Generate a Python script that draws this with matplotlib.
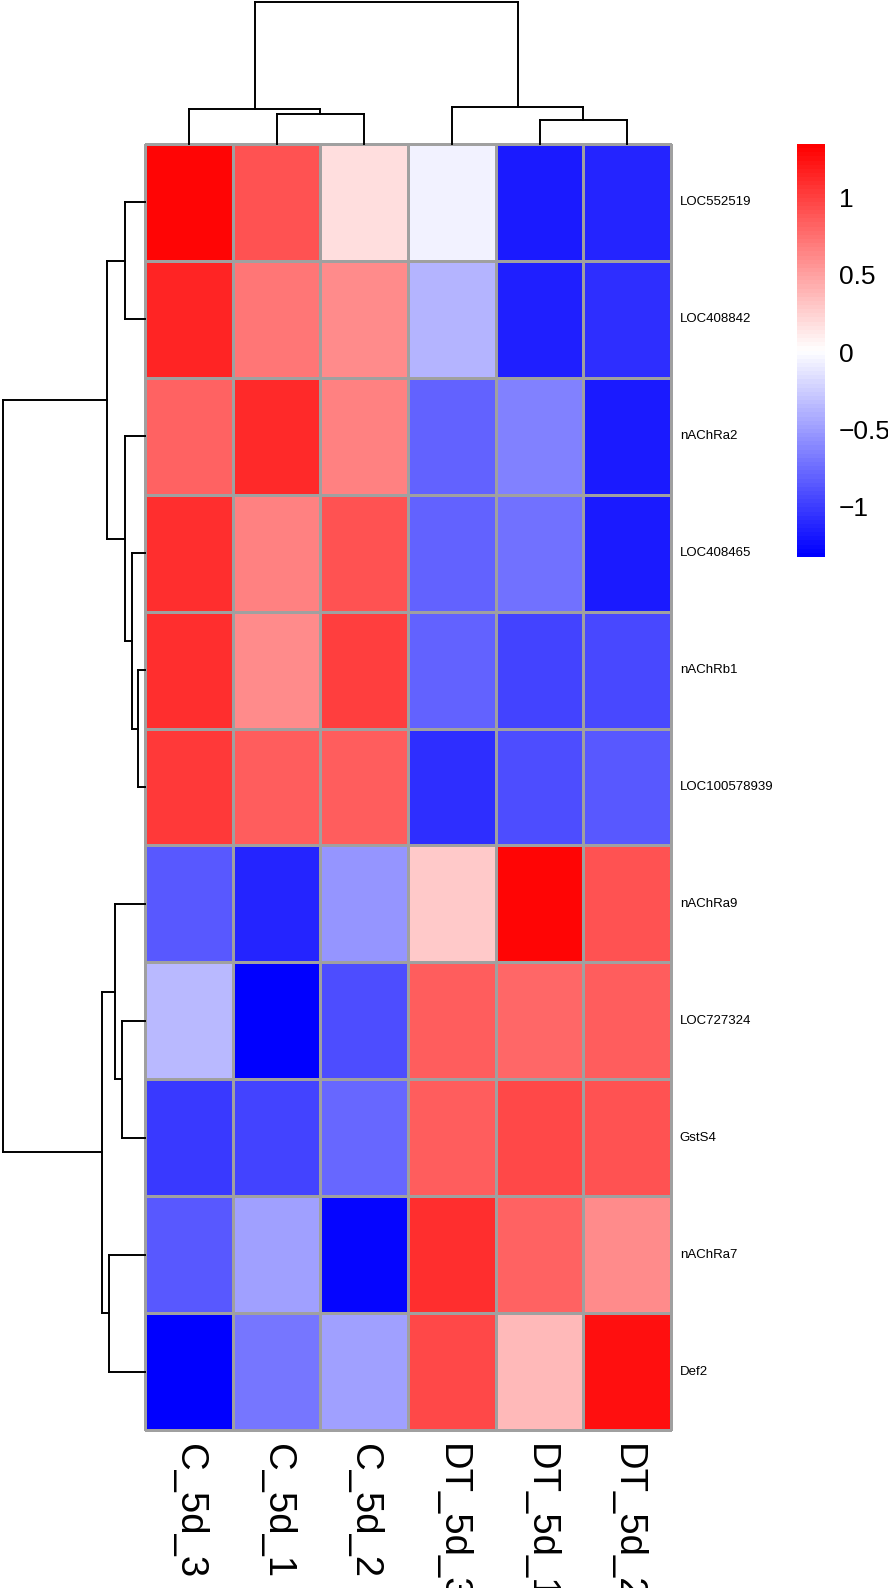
import matplotlib

matplotlib.use("Agg")

import matplotlib.pyplot as plt
import numpy as np
from matplotlib.colors import LinearSegmentedColormap, Normalize

plt.rcParams["font.family"] = ["Liberation Sans", "DejaVu Sans"]

# rows / columns in dendrogram order
genes = [
    "LOC552519", "LOC408842", "nAChRa2", "LOC408465", "nAChRb1", "LOC100578939",
    "nAChRa9", "LOC727324", "GstS4", "nAChRa7", "Def2",
]
samples = ["C_5d_3", "C_5d_1", "C_5d_2", "DT_5d_3", "DT_5d_1", "DT_5d_2"]

# row-scaled expression (z-scores)
z_LOC552519 = [1.30, 0.90, 0.18, -0.06, -1.18, -1.12]
z_LOC408842 = [1.15, 0.72, 0.62, -0.38, -1.15, -1.08]
z_nAChRa2 = [0.82, 1.12, 0.66, -0.82, -0.66, -1.18]
z_LOC408465 = [1.10, 0.66, 0.90, -0.80, -0.72, -1.18]
z_nAChRb1 = [1.10, 0.62, 1.02, -0.82, -0.98, -0.95]
z_LOC100578939 = [1.05, 0.85, 0.86, -1.08, -0.92, -0.85]
z_nAChRa9 = [-0.86, -1.12, -0.55, 0.28, 1.32, 0.92]
z_LOC727324 = [-0.35, -1.33, -0.92, 0.86, 0.80, 0.86]
z_GstS4 = [-1.02, -0.96, -0.78, 0.86, 0.96, 0.90]
z_nAChRa7 = [-0.86, -0.48, -1.30, 1.10, 0.82, 0.62]
z_Def2 = [-1.33, -0.70, -0.48, 0.96, 0.38, 1.25]

vmin, vmax = -1.33, 1.35
cbar_ticks = [-1, -0.5, 0, 0.5, 1]
cbar_labels = ["\u22121", "\u22120.5", "0", "0.5", "1"]

# hierarchical merges (scipy style: ids >= n are earlier merges), height in px
col_merges = [(1, 2, 30.0), (0, 6, 35.0), (4, 5, 24.3), (3, 8, 36.7), (7, 9, 142.0)]
row_merges = [
    (4, 5, 7.0), (3, 11, 13.0), (0, 1, 19.7), (2, 12, 20.3), (13, 14, 38.3),
    (7, 8, 23.3), (6, 16, 29.7), (9, 10, 36.3), (17, 18, 43.0), (15, 19, 142.3),
]

W, H = 888, 1588


def px_axes(fig, x0, y0, x1, y1):
    return fig.add_axes([x0 / W, 1 - y1 / H, (x1 - x0) / W, (y1 - y0) / H])


def dendro_segments(n, merges):
    pos = {i: i + 0.5 for i in range(n)}
    hgt = {i: 0.0 for i in range(n)}
    segs = []
    for k, (a, b, h) in enumerate(merges):
        node = n + k
        segs.append(((pos[a], hgt[a]), (pos[a], h)))
        segs.append(((pos[b], hgt[b]), (pos[b], h)))
        segs.append(((pos[a], h), (pos[b], h)))
        pos[node] = (pos[a] + pos[b]) / 2
        hgt[node] = h
    return segs


data = np.array([
    z_LOC552519, z_LOC408842, z_nAChRa2, z_LOC408465, z_nAChRb1, z_LOC100578939,
    z_nAChRa9, z_LOC727324, z_GstS4, z_nAChRa7, z_Def2,
])

cmap = LinearSegmentedColormap.from_list("bwr_ph", ["blue", "white", "red"], N=100)
norm = Normalize(vmin=vmin, vmax=vmax)

fig = plt.figure(figsize=(W / 100, H / 100), dpi=100)

hx0, hy0, hx1, hy1 = 145, 144, 671, 1430
ax = px_axes(fig, hx0, hy0, hx1, hy1)
mesh = ax.pcolormesh(data, cmap=cmap, norm=norm, edgecolors="#a0a0a0", linewidth=1.0)
mesh.set_clip_on(False)
ax.set_xlim(0, len(samples))
ax.set_ylim(len(genes), 0)
ax.axis("off")

for i, g in enumerate(genes):
    ax.text(len(samples) + 0.1, i + 0.5, g, fontsize=9.5, va="center", ha="left")
for j, s in enumerate(samples):
    ax.text(j + 0.5, len(genes) + 0.12, s, fontsize=27.5, rotation=270,
            ha="center", va="top")

# column dendrogram
axc = px_axes(fig, hx0, 0, hx1, hy0)
for (x0, y0), (x1, y1) in dendro_segments(len(samples), col_merges):
    axc.plot([x0, x1], [y0, y1], color="black", lw=1.4, solid_capstyle="projecting",
             clip_on=False)
axc.set_xlim(0, len(samples))
axc.set_ylim(0, hy0)
axc.axis("off")

# row dendrogram
axr = px_axes(fig, 0, hy0, hx0, hy1)
for (y0, x0), (y1, x1) in dendro_segments(len(genes), row_merges):
    axr.plot([x0, x1], [y0, y1], color="black", lw=1.4, solid_capstyle="projecting",
             clip_on=False)
axr.set_xlim(hx0, 0)
axr.set_ylim(len(genes), 0)
axr.axis("off")

# colour legend
cax = px_axes(fig, 797, 144, 825, 557)
sm = plt.cm.ScalarMappable(norm=norm, cmap=cmap)
cb = fig.colorbar(sm, cax=cax, ticks=cbar_ticks)
cb.outline.set_visible(False)
cb.ax.set_yticklabels(cbar_labels, fontsize=19)
cb.ax.tick_params(length=0, pad=10)

fig.savefig("out.png", dpi=100)
